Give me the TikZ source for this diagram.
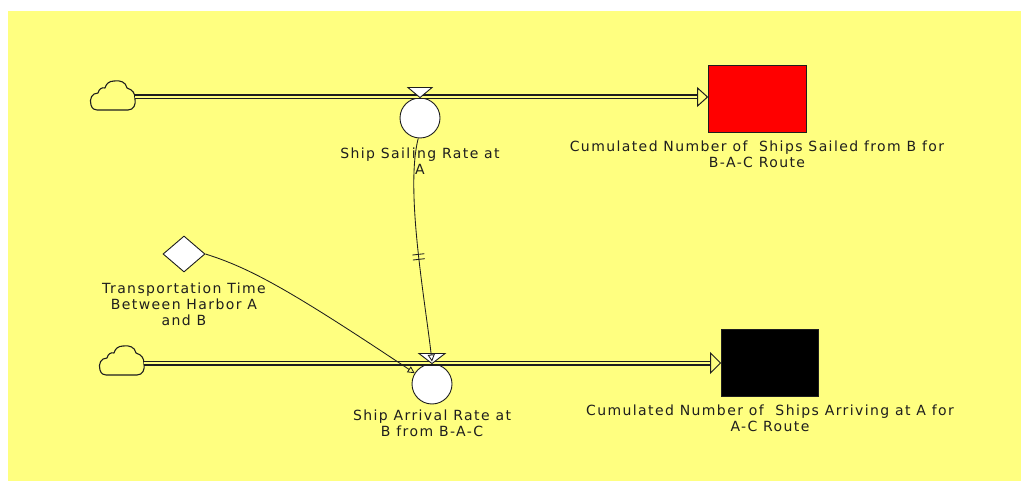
\documentclass[tikz,border=0pt]{standalone}
\usepackage{fontspec}
\setmainfont{DejaVu Sans}
\newfontfamily\lblfont[LetterSpace=10]{DejaVu Sans}
\usetikzlibrary{shapes.geometric,arrows.meta,decorations.markings,calc}
\definecolor{bg}{RGB}{255,255,128}
\definecolor{ink}{RGB}{30,30,30}
\begin{document}
\begin{tikzpicture}[x=1pt,y=-1pt,
  lbl/.style={font=\lblfont\fontsize{14}{16}\selectfont, align=center, inner sep=0pt, text=ink, anchor=north},
  pipe/.style={draw=ink, line width=1.2pt, double=bg, double distance=2.6pt},
  valvecirc/.style={circle, draw=ink, fill=white, line width=0.9pt, minimum size=40pt, inner sep=0pt},
  valvetri/.style={draw=ink, fill=white, line width=0.9pt, line join=miter},
  pipehead/.style={draw=ink, fill=bg, line width=1pt, line join=miter},
  stockbox/.style={rectangle, draw=ink, line width=1pt, inner sep=0pt},
  cloudline/.style={draw=ink, line width=1.1pt, line join=round},
  auxdiam/.style={diamond, draw=ink, fill=white, line width=0.9pt, minimum width=42pt, minimum height=36pt, inner sep=0pt},
  link/.style={draw=ink, line width=0.85pt, -{Triangle[open,length=7pt,width=7pt]}},
  delaymark/.style={postaction={decorate}, decoration={markings, mark=at position 0.53 with {\draw[-, ink, line width=0.85pt] (-2.5pt,-6pt) -- (-2.5pt,6pt); \draw[-, ink, line width=0.85pt] (2.5pt,-6pt) -- (2.5pt,6pt);}}}
]
\fill[white] (0,0) rectangle (1021,481);
\fill[bg] (8,11) rectangle (1021,481);
\useasboundingbox (0,0) rectangle (1021,481);

% clouds
\coordinate (c1) at (112,95);
\coordinate (c2) at (121,360);
\foreach \c in {c1,c2}{
  \draw[cloudline, shift={(\c)}] (-15,15) -- (16,15)
    .. controls (22,15) and (24,9) .. (23,4)
    .. controls (23,-2) and (21,-5) .. (15,-7)
    .. controls (14,-13) and (8,-15) .. (2,-14)
    .. controls (-3,-14) and (-6,-11) .. (-7,-7)
    .. controls (-10,-8) and (-13,-6) .. (-14,-2)
    .. controls (-20,-2) and (-23,4) .. (-21,10)
    .. controls (-20,14) and (-17,15) .. (-15,15) -- cycle;
}

% stocks
\node[stockbox, fill=red, minimum width=98pt, minimum height=67pt] (s1) at (757,99.5) {};
\node[stockbox, fill=black, minimum width=97pt, minimum height=66pt] (s2) at (769.5,363) {};

% valves
\node[valvecirc] (vs) at (420,118) {};
\node[valvecirc] (va) at (432,384) {};

% pipe coordinates
\coordinate (p1s) at ($(c1)+(23,2)$);
\coordinate (p1e) at (p1s -| s1.west);
\coordinate (p2s) at ($(c2)+(23,3)$);
\coordinate (p2e) at (p2s -| s2.west);

\draw[pipe, shorten >=10pt] (p1s) -- (p1e);
\draw[pipe, shorten >=10pt] (p2s) -- (p2e);
\draw[pipehead] ($(p1e)+(-10,-9)$) -- (p1e) -- ($(p1e)+(-10,9)$) -- cycle;
\draw[pipehead] ($(p2e)+(-10,-10)$) -- (p2e) -- ($(p2e)+(-10,10)$) -- cycle;

% valve triangles
\draw[valvetri] ($(vs.north)+(-12,-10)$) -- ($(vs.north)+(12,-10)$) -- (vs.north) -- cycle;
\draw[valvetri] ($(va.north)+(-13,-10)$) -- ($(va.north)+(13,-10)$) -- (va.north) -- cycle;

% auxiliary
\node[auxdiam] (tt) at (184,254) {};

% links
\coordinate (vatop) at ($(va.north)+(0,-2)$);
\draw[link, delaymark] (vs.265) .. controls (405,190) and (425,300) .. (vatop);
\draw[link] (tt.east) .. controls (250,268) and (290,290) .. (va.148);

% labels
\node[lbl] (lvs) at (420,147.5) {Ship Sailing Rate at\\A};
\node[lbl] (ls1) at (757,140.5) {Cumulated Number of~ Ships Sailed from B for\\B-A-C Route};
\node[lbl] (ltt) at (184,282.5) {Transportation Time\\Between Harbor A\\and B};
\node[lbl] (lva) at (432,409.5) {Ship Arrival Rate at\\B from B-A-C};
\node[lbl] (ls2) at (770,404.5) {Cumulated Number of~ Ships Arriving at A for\\A-C Route};
\end{tikzpicture}
\end{document}
